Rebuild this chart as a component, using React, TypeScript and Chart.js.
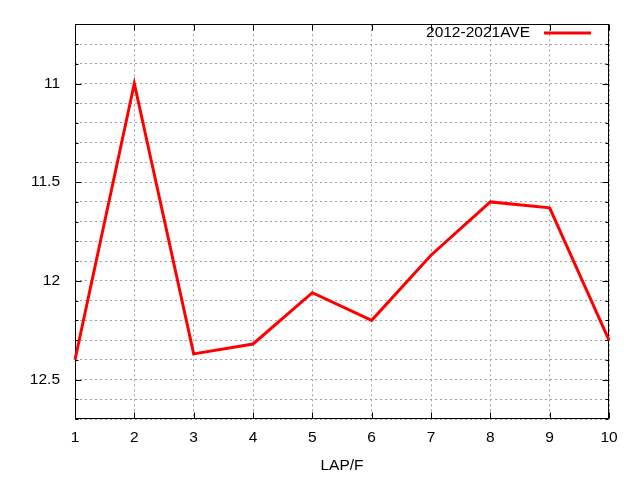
import React, { useEffect, useRef } from "react";
import { Chart, registerables } from "chart.js";

Chart.register(...registerables);

const laps = [1, 2, 3, 4, 5, 6, 7, 8, 9, 10];
const aveTimes = [12.4, 11.0, 12.37, 12.32, 12.06, 12.2, 11.87, 11.6, 11.63, 12.3];
const seriesLabel = "2012-2021AVE";
const xTitle = "LAP/F";
const yMin = 10.7;
const yMax = 12.7;
const yGridValues = [10.7, 10.8, 10.9, 11.0, 11.1, 11.2, 11.3, 11.4, 11.5, 11.6, 11.7, 11.8, 11.9, 12.0, 12.1, 12.2, 12.3, 12.4, 12.5, 12.6, 12.7];
const yLabelValues = [11, 11.5, 12, 12.5];
const xTickValues = laps;

const FONT = "'Liberation Sans', Arial, sans-serif";
const FS = 15.5;

const isLabel = (v: number) => yLabelValues.some((l) => Math.abs(l - v) < 1e-6);

const framePlugin = {
  id: "frame",
  beforeDatasetsDraw(chart: any) {
    const { ctx, chartArea } = chart;
    const { left, right, top, bottom } = chartArea;
    const xs = chart.scales.x;
    const ys = chart.scales.y;
    ctx.save();
    ctx.strokeStyle = "#000";
    ctx.lineWidth = 1;
    ctx.setLineDash([]);
    const L = Math.round(left) + 0.5;
    const R = Math.round(right) - 0.5;
    const T = Math.round(top) + 0.5;
    const B = Math.round(bottom) - 0.5;
    ctx.strokeRect(L, T, R - L, B - T);
    ctx.beginPath();
    xTickValues.forEach((v) => {
      const px = Math.round(xs.getPixelForValue(v)) + 0.5;
      ctx.moveTo(px, B);
      ctx.lineTo(px, B - 6);
      ctx.moveTo(px, T);
      ctx.lineTo(px, T + 6);
    });
    yGridValues.forEach((v) => {
      const py = Math.round(ys.getPixelForValue(v)) + 0.5;
      const len = isLabel(v) ? 6 : 3;
      ctx.moveTo(L, py);
      ctx.lineTo(L + len, py);
      ctx.moveTo(R, py);
      ctx.lineTo(R - len, py);
    });
    ctx.stroke();
    ctx.restore();
  },
};

const legendPlugin = {
  id: "gpLegend",
  afterDraw(chart: any) {
    const { ctx } = chart;
    const ds = chart.data.datasets[0];
    ctx.save();
    ctx.font = `${FS}px ${FONT}`;
    ctx.fillStyle = "#000";
    ctx.textAlign = "right";
    ctx.textBaseline = "middle";
    ctx.fillText(ds.label, 530, 33);
    ctx.strokeStyle = ds.borderColor;
    ctx.lineWidth = 3;
    ctx.beginPath();
    ctx.moveTo(544, 33);
    ctx.lineTo(591, 33);
    ctx.stroke();
    ctx.restore();
  },
};

export default function App() {
  const ref = useRef<HTMLCanvasElement | null>(null);
  useEffect(() => {
    if (!ref.current) return;
    Chart.defaults.font.family = FONT;
    Chart.defaults.color = "#000";
    const chart = new Chart(ref.current, {
      type: "line",
      data: {
        datasets: [
          {
            label: seriesLabel,
            data: laps.map((x, i) => ({ x, y: aveTimes[i] })),
            borderColor: "#ff0000",
            borderWidth: 3,
            pointRadius: 0,
            tension: 0,
            fill: false,
            clip: 3,
          } as any,
        ],
      },
      options: {
        animation: false,
        responsive: false,
        layout: { padding: { left: 0, top: 19, right: 31, bottom: 0 } },
        plugins: { legend: { display: false }, tooltip: { enabled: false } },
        scales: {
          x: {
            type: "linear",
            min: 1,
            max: 10,
            afterBuildTicks: (axis: any) => {
              axis.ticks = xTickValues.map((v) => ({ value: v }));
            },
            afterFit: (axis: any) => {
              axis.height = 61;
            },
            ticks: { font: { size: FS }, padding: 9, autoSkip: false, maxRotation: 0 },
            grid: { color: "#a0a0a0", lineWidth: 1, drawTicks: false },
            border: { display: false, dash: [2, 3] },
            title: { display: true, text: xTitle, font: { size: FS }, padding: { top: 0, bottom: 5 } },
          },
          y: {
            type: "linear",
            reverse: true,
            min: yMin,
            max: yMax,
            afterBuildTicks: (axis: any) => {
              axis.ticks = yGridValues.map((v) => ({ value: v }));
            },
            afterFit: (axis: any) => {
              axis.width = 75;
            },
            ticks: {
              font: { size: FS },
              padding: 15,
              autoSkip: false,
              callback: (v: any) => (isLabel(Number(v)) ? String(Number(v)) : ""),
            },
            grid: { color: "#a0a0a0", lineWidth: 1, drawTicks: false },
            border: { display: false, dash: [2, 3] },
          },
        },
      },
      plugins: [framePlugin, legendPlugin],
    });
    return () => chart.destroy();
  }, []);
  return (
    <div style={{ position: "absolute", left: 0, top: 0, width: 640, height: 480, background: "#fff" }}>
      <canvas ref={ref} width={640} height={480} style={{ display: "block" }} />
    </div>
  );
}
